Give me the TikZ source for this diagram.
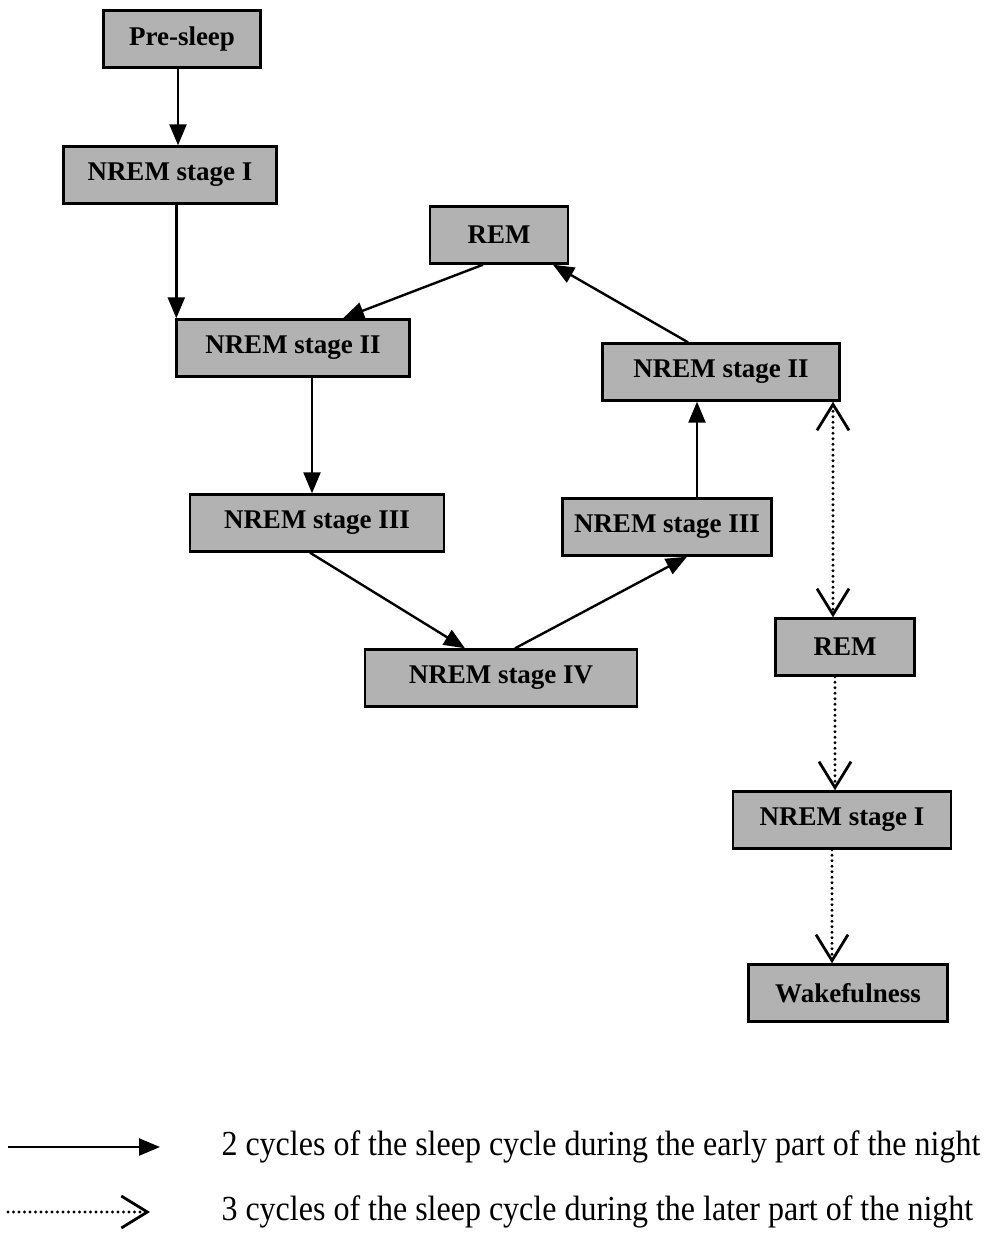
\documentclass[tikz,border=0pt]{standalone}
\usepackage{fontspec}
\setmainfont{Liberation Serif}
\usetikzlibrary{arrows.meta,positioning}

\begin{document}
\begin{tikzpicture}[
				x=1pt, y=-1pt,
				% boxes of the sleep stages
				stage/.style={draw=black, line width=2.4pt, fill=black!30, minimum height=57pt,
					inner sep=0pt, font=\bfseries\fontsize{27}{30}\selectfont},
				early/.style={line width=2.4pt, -{Triangle[width=17pt,length=21pt]}},
				later/.style={line width=3.2pt, dash pattern=on 0pt off 5.5pt, line cap=round,
					-{Straight Barb[width=32pt,length=26pt,line width=2.8pt]}},
				legendtext/.style={anchor=west, font=\fontsize{32}{36}\selectfont, yscale=1.1}
				]
				\useasboundingbox (0,0) rectangle (999,1239);
				\pgfmathsetmacro{\LegendStart}{8}
				\pgfmathsetmacro{\LegendText}{218}
				% first cycles
				\node[stage, minimum width=157pt] (PreSleep) at (182,39) {Pre-sleep};
				\node[stage, minimum width=213pt] (NremOne) at (170,175) {NREM stage I};
				\node[stage, minimum width=138pt] (RemTop) at (499,235) {REM};
				\node[stage, minimum width=233pt] (NremTwo) at (293,348) {NREM stage II};
				\node[stage, minimum width=237pt] (NremTwoB) at (721,372) {NREM stage II};
				\node[stage, minimum width=254pt] (NremThree) at (317,523) {NREM stage III};
				\node[stage, minimum width=209pt] (NremThreeB) at (667,527) {NREM stage III};
				\node[stage, minimum width=272pt] (NremFour) at (501,678) {NREM stage IV};
				% later cycles
				\node[stage, minimum width=139pt] (RemSide) at (845,647) {REM};
				\node[stage, minimum width=218pt] (NremOneB) at (842,820) {NREM stage I};
				\node[stage, minimum width=199pt] (Wake) at (848,993) {Wakefulness};
				\draw[early] ([xshift=-4pt]PreSleep.south) -- ([xshift=-4pt]PreSleep.south |- NremOne.north);
				\draw[early] ([xshift=1pt]NremOne.south -| NremTwo.west) -- ([xshift=1pt]NremTwo.north west);
				\draw[early] ([xshift=-16pt]RemTop.south) -- ([xshift=50pt]NremTwo.north);
				\draw[early] ([xshift=19pt]NremTwo.south) -- ([xshift=19pt]NremTwo.south |- NremThree.north);
				\draw[early] ([xshift=-7pt]NremThree.south) -- ([xshift=-36pt]NremFour.north);
				\draw[early] ([xshift=14pt]NremFour.north) -- ([xshift=20pt]NremThreeB.south);
				\draw[early] ([xshift=30pt]NremThreeB.north) -- ([xshift=30pt]NremThreeB.north |- NremTwoB.south);
				\draw[early] ([xshift=-33pt]NremTwoB.north) -- ([xshift=54pt]RemTop.south);
				\draw[later, {Straight Barb[width=32pt,length=26pt,line width=2.8pt]}-{Straight Barb[width=32pt,length=26pt,line width=2.8pt]}]
					([xshift=112pt]NremTwoB.south) -- ([xshift=-12pt]RemSide.north);
				\draw[later] ([xshift=-10pt]RemSide.south) -- ([xshift=-7pt]NremOneB.north);
				\draw[later] ([xshift=-10pt]NremOneB.south) -- ([xshift=-16pt]Wake.north);
				% legend
				\coordinate (EarlyStart) at (\LegendStart,1147);
				\coordinate (EarlyEnd) at (160,1147);
				\coordinate (LaterStart) at (\LegendStart,1212);
				\coordinate (LaterEnd) at (150,1212);
				\draw[early] (EarlyStart) -- (EarlyEnd);
				\draw[later] (LaterStart) -- (LaterEnd);
				\node[legendtext] (EarlyText) at (\LegendText,1147) {2 cycles of the sleep cycle during the early part of the night};
				\node[legendtext] (LaterText) at (\LegendText,1212) {3 cycles of the sleep cycle during the later part of the night};
			\end{tikzpicture}
\end{document}
